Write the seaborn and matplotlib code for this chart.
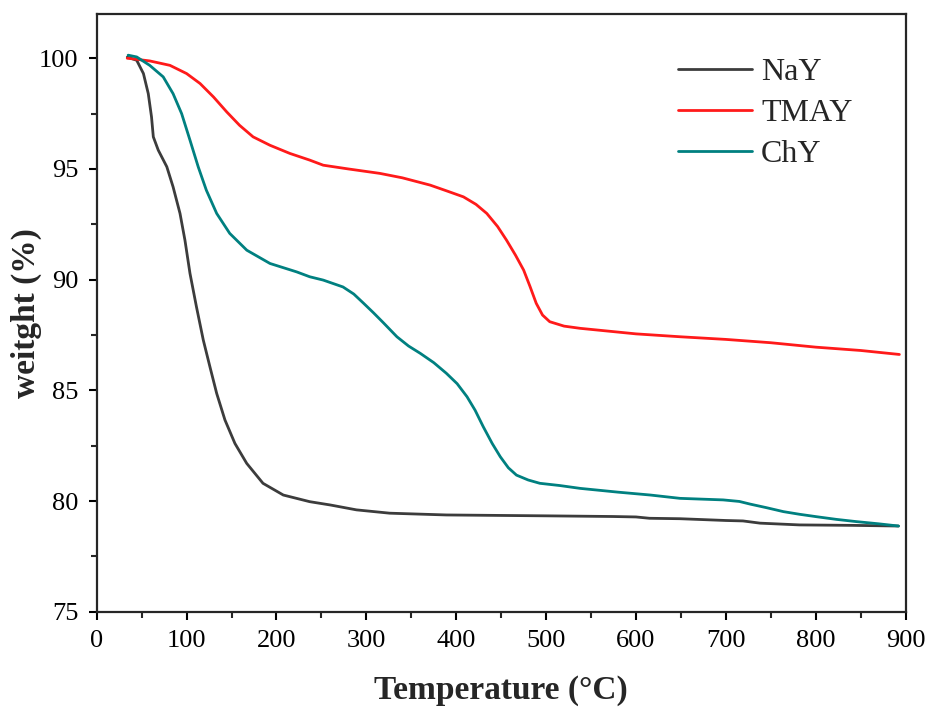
import pandas as pd
import seaborn as sns
import matplotlib.pyplot as plt
from matplotlib.ticker import MultipleLocator

# TGA curves (temperature in °C, weight in %)
nay_t = [34, 44.5, 52, 57.4, 61, 63, 68.5, 78, 85, 92.7, 98.2, 103.8, 111, 118.6,
         126, 133.5, 142.7, 153.8, 166.9, 185, 207.6, 237, 260, 289, 326, 389, 500,
         574, 600, 615, 649, 700, 719, 738, 782, 840, 892]
nay_w = [100.05, 99.91, 99.31, 98.4, 97.35, 96.45, 95.85, 95.1, 94.19, 92.99, 91.78,
         90.28, 88.77, 87.27, 86.06, 84.86, 83.66, 82.6, 81.7, 80.8, 80.27, 79.97,
         79.82, 79.6, 79.45, 79.37, 79.33, 79.3, 79.28, 79.22, 79.2, 79.12, 79.1,
         79.0, 78.92, 78.9, 78.87]

tmay_t = [34, 37, 59, 81.5, 100, 115, 130, 144.6, 159, 174, 192.8, 215, 237, 252,
          280, 315, 340, 371, 390, 408, 422, 434, 446, 456, 466, 475, 482, 489, 496,
          504, 520, 538, 600, 649, 700, 750, 800, 850, 893]
tmay_w = [100.0, 99.99, 99.88, 99.68, 99.31, 98.86, 98.25, 97.58, 96.97, 96.45,
          96.07, 95.7, 95.4, 95.17, 95.0, 94.8, 94.6, 94.27, 94.0, 93.74, 93.4, 92.99,
          92.4, 91.78, 91.1, 90.43, 89.7, 88.93, 88.4, 88.1, 87.9, 87.8, 87.55, 87.42,
          87.3, 87.15, 86.95, 86.8, 86.62]

chy_t = [35, 44.5, 59, 74, 85, 94.5, 103.8, 113, 122, 133.5, 148, 167, 192.8, 222.5,
         237, 252, 274, 286, 297, 308, 319, 334, 347, 360, 375, 389, 401, 412, 421,
         430, 440, 449, 458, 467, 480, 493, 515, 538, 580, 616, 649, 697, 715, 727,
         745, 764, 782, 801, 823, 845, 870, 892]
chy_w = [100.14, 100.06, 99.68, 99.16, 98.4, 97.5, 96.3, 95.09, 94.04, 92.99, 92.09,
         91.33, 90.73, 90.35, 90.13, 89.98, 89.67, 89.35, 88.93, 88.5, 88.05, 87.42,
         87.0, 86.67, 86.25, 85.77, 85.3, 84.71, 84.1, 83.36, 82.6, 82.0, 81.5, 81.17,
         80.95, 80.8, 80.7, 80.57, 80.4, 80.27, 80.12, 80.05, 79.98, 79.86, 79.7,
         79.52, 79.4, 79.29, 79.17, 79.07, 78.97, 78.87]

samples = ["NaY", "TMAY", "ChY"]
colors = ["#3c3c3c", "#ff1a1a", "#008080"]


def build_frame():
    parts = []
    for name, t, w in zip(samples, [nay_t, tmay_t, chy_t], [nay_w, tmay_w, chy_w]):
        parts.append(pd.DataFrame({"temperature": t, "weight": w, "sample": name}))
    return pd.concat(parts, ignore_index=True)


def main():
    df = build_frame()
    sns.set_style("ticks")
    plt.rcParams["font.family"] = ["Liberation Serif", "DejaVu Serif"]

    fig = plt.figure(figsize=(9.27, 7.07), dpi=100)
    ax = fig.add_axes([0.1043, 0.1348, 0.8727, 0.8454])

    sns.lineplot(data=df, x="temperature", y="weight", hue="sample",
                 hue_order=samples, palette=colors, estimator=None,
                 linewidth=2.0, ax=ax, legend=False)
    for line in ax.get_lines():
        line.set_solid_joinstyle("round")

    ax.set_xlim(0, 900)
    ax.set_ylim(75, 102)
    ax.xaxis.set_major_locator(MultipleLocator(100))
    ax.xaxis.set_minor_locator(MultipleLocator(50))
    ax.yaxis.set_major_locator(MultipleLocator(5))
    ax.yaxis.set_minor_locator(MultipleLocator(2.5))
    ax.tick_params(which="major", direction="out", length=6, width=1.5,
                   labelsize=19, pad=7, colors="black")
    ax.tick_params(which="minor", direction="out", length=4, width=1.5)
    for side in ax.spines.values():
        side.set_linewidth(1.6)
        side.set_visible(True)

    ax.set_xlabel("Temperature (\u00b0C)", fontsize=24, fontweight="bold")
    ax.set_ylabel("weitght (%)", fontsize=24, fontweight="bold")
    ax.xaxis.set_label_coords(0.5, -0.106)
    ax.yaxis.set_label_coords(-0.068, 0.5)

    for line, name in zip(ax.get_lines(), samples):
        line.set_label(name)
    ax.legend(loc="upper left", bbox_to_anchor=(0.7186, 0.927), frameon=False,
              borderaxespad=0, borderpad=0, fontsize=23, handlelength=2.3,
              handletextpad=0.3, labelspacing=0.36)

    fig.savefig("out.png", dpi=100)
    plt.close(fig)


if __name__ == "__main__":
    main()
